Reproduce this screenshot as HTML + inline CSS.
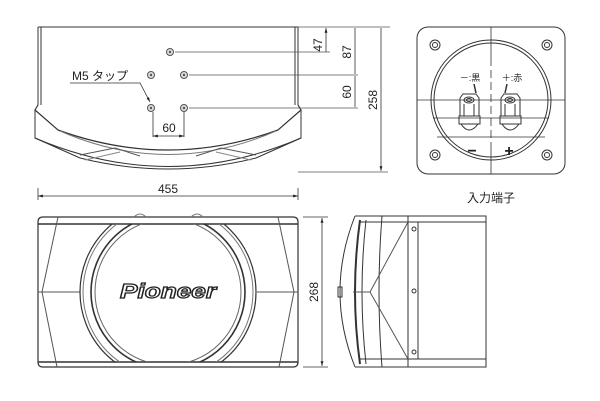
<!DOCTYPE html>
<html><head><meta charset="utf-8"><style>
html,body{margin:0;padding:0;background:#fff;}
svg{display:block}
text{font-family:"Liberation Sans","Noto Sans CJK JP",sans-serif;fill:#222}
</style></head><body>
<svg width="600" height="401" viewBox="0 0 600 401" xmlns="http://www.w3.org/2000/svg">
<defs>
<marker id="a" viewBox="0 0 10 10" refX="10" refY="5" markerWidth="6" markerHeight="6" orient="auto-start-reverse"><path d="M0,2 L10,5 L0,8 z" fill="#222"/></marker>
<clipPath id="fc"><rect x="38" y="224" width="260" height="138"/></clipPath>
</defs>
<g fill="none" stroke="#333" stroke-width="1">
<!-- TOP VIEW -->
<path d="M38,27 H298 M38,27 V105 M41,27 V105 M298,27 V105 M295,27 V105"/>
<path d="M38,105 L35,110 L58,130 Q168,170 278,130 L301,110 L298,105" stroke-width="1.2"/>
<path d="M35,110 L35,138 L80,158 Q168,180 256,158 L301,138 L301,110"/>
<path d="M35,138 Q168,195 301,138"/>
<path d="M60,131 Q168,178 276,131" stroke="#777"/>
<path d="M80,155 L115,148 L140,156 M256,155 L221,148 L196,156" stroke="#555"/>
<path d="M85,160 L120,152 M251,160 L216,152" stroke="#888"/>
<g fill="#ddd" stroke="#555"><circle cx="170" cy="52" r="3.5"/><circle cx="151" cy="75" r="3.5"/><circle cx="184" cy="75" r="3.5"/><circle cx="151" cy="108" r="3.5"/><circle cx="184" cy="108" r="3.5"/></g>
<g fill="#555" stroke="none"><circle cx="170" cy="52" r="1.2"/><circle cx="151" cy="75" r="1.2"/><circle cx="184" cy="75" r="1.2"/><circle cx="151" cy="108" r="1.2"/><circle cx="184" cy="108" r="1.2"/></g>
<path d="M175,52 H330 M189,75 H358 M189,108 H358 M298,27 H390 M298,172 H388" stroke="#555" stroke-width="0.8"/>
<path d="M326,28 V52 M355,28 V74 M355,76 V107 M381,28 V171" stroke-width="0.8" marker-start="url(#a)" marker-end="url(#a)"/>
<path d="M70,83 H140 L150,102" stroke-width="0.8" marker-end="url(#a)"/>
<path d="M153,112 V137 M184,112 V137" stroke-width="0.8"/>
<path d="M153,136 H184" stroke-width="0.8" marker-start="url(#a)" marker-end="url(#a)"/>
<path d="M38,188 V200 M298,188 V200" stroke-width="0.8"/>
<path d="M38,196 H298" stroke-width="0.8" marker-start="url(#a)" marker-end="url(#a)"/>
<!-- FRONT VIEW -->
<path d="M43,217 H293 Q298,217 298,222 V362 Q298,367 293,367 H43 Q38,367 38,362 V222 Q38,217 43,217 Z" stroke-width="1.2"/>
<path d="M38,224 H298 M38,362 H298" stroke-width="1.4"/>
<path d="M134,217 Q140,211 146,217 M191,217 Q197,211 203,217" stroke="#777"/>
<path d="M58,217 L42,292 L57,367 M278,217 L294,292 L279,367 M38,292 H80 M257,292 H298" stroke="#555"/>
<g clip-path="url(#fc)">
<circle cx="168" cy="292" r="88" stroke-width="1.2"/>
<circle cx="168" cy="292" r="85" stroke="#777"/>
<circle cx="168" cy="292" r="77" stroke-width="1.6"/>
<circle cx="168" cy="292" r="73" stroke="#666"/>
</g>
<path d="M303,217 H328 M303,367 H328" stroke-width="0.8"/>
<path d="M322,218 V366" stroke-width="0.8" marker-start="url(#a)" marker-end="url(#a)"/>
<!-- SIDE VIEW -->
<path d="M355,216 H486 V367 H355 M360,222 H486 M360,359 H486" />
<path d="M355,216 Q325,292 355,367" />
<path d="M360,220 Q350,292 360,364" stroke-width="2"/>
<path d="M366,220 Q358,292 366,364"/>
<path d="M382,216 Q376,292 382,367 M408,216 V367 M418,222 V359"/>
<path d="M408,222 L370,292 L408,359 M353,292 H370" stroke="#555"/>
<rect x="338" y="287" width="4" height="10" stroke-width="1"/>
<circle cx="414" cy="229" r="2"/><circle cx="414" cy="291" r="2"/><circle cx="414" cy="352" r="2"/>
<!-- TERMINAL -->
<rect x="417" y="27" width="148" height="147" rx="11"/>
<path d="M491,27 V58 M491,142 V174 M417,100 H565" stroke-width="0.8"/>
<path d="M491,58 V142" stroke-width="0.8" stroke-dasharray="8,4"/>
<circle cx="491" cy="100" r="60"/>
<circle cx="491" cy="100" r="57"/>
<path d="M433,118 H549 M437,137 H545" stroke-width="0.8"/>
<g><circle cx="435" cy="45" r="5"/><circle cx="435" cy="45" r="2.5"/><circle cx="547" cy="45" r="5"/><circle cx="547" cy="45" r="2.5"/><circle cx="435" cy="155" r="5"/><circle cx="435" cy="155" r="2.5"/><circle cx="547" cy="155" r="5"/><circle cx="547" cy="155" r="2.5"/></g>
<g>
<path d="M460,98 L463,94 H476 L479,98 V116 H460 Z"/><path d="M459,116 H480 V124 H459 Z M461,124 Q469,136 478,124"/><ellipse cx="469" cy="100" rx="5" ry="3"/><ellipse cx="469" cy="100" rx="2.5" ry="1.5"/><path d="M464,104 V116 M474,104 V116"/>
<path d="M501,98 L504,94 H517 L520,98 V116 H501 Z"/><path d="M500,116 H521 V124 H500 Z M502,124 Q510,136 519,124"/><ellipse cx="510" cy="100" rx="5" ry="3"/><ellipse cx="510" cy="100" rx="2.5" ry="1.5"/><path d="M505,104 V116 M515,104 V116"/>
<path d="M474,84 L476,93 M507,84 L505,93" stroke-width="1.5"/>
</g>
</g>
<g font-size="12">
<text x="168" y="193" text-anchor="middle">455</text>
<text x="169" y="132" text-anchor="middle">60</text>
<text x="72" y="80">M5 タップ</text>
<text transform="translate(322,45) rotate(-90)" text-anchor="middle">47</text>
<text transform="translate(351,52) rotate(-90)" text-anchor="middle">87</text>
<text transform="translate(351,92) rotate(-90)" text-anchor="middle">60</text>
<text transform="translate(377,100) rotate(-90)" text-anchor="middle">258</text>
<text transform="translate(318,292) rotate(-90)" text-anchor="middle">268</text>
<text x="491" y="202" text-anchor="middle">入力端子</text>
<text x="470" y="81" font-size="9" text-anchor="middle">－:黒</text>
<text x="512" y="81" font-size="9" text-anchor="middle">＋:赤</text>
<text x="472" y="156" font-size="16" text-anchor="middle" font-weight="bold">−</text>
<text x="509" y="156" font-size="16" text-anchor="middle" font-weight="bold">+</text>
<text x="168" y="298" font-size="20" font-style="italic" font-weight="bold" text-anchor="middle" style="fill:#fff;stroke:#222;stroke-width:1.2" textLength="96" lengthAdjust="spacingAndGlyphs">Pioneer</text>
</g>
</svg>
</body></html>
